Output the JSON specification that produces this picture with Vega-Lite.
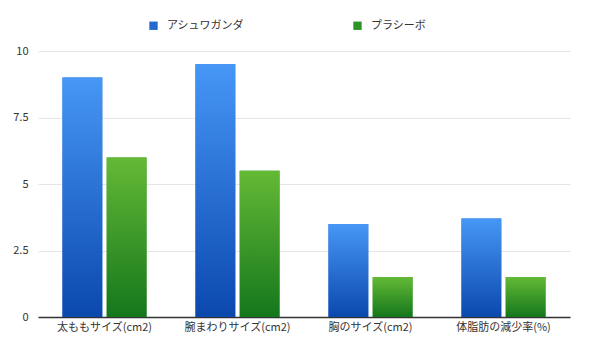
{
  "$schema": "https://vega.github.io/schema/vega-lite/v6.json",
  "width": 532,
  "height": 266,
  "autosize": {"type": "none"},
  "padding": {"left": 38, "top": 51, "right": 20, "bottom": 23},
  "background": "white",
  "config": {
    "font": "Noto Sans CJK JP",
    "view": {"stroke": null}
  },
  "data": {
    "values": [
      {"category": "太ももサイズ(cm2)", "series": "アシュワガンダ", "value": 9},
      {"category": "太ももサイズ(cm2)", "series": "プラシーボ", "value": 6},
      {"category": "腕まわりサイズ(cm2)", "series": "アシュワガンダ", "value": 9.5},
      {"category": "腕まわりサイズ(cm2)", "series": "プラシーボ", "value": 5.5},
      {"category": "胸のサイズ(cm2)", "series": "アシュワガンダ", "value": 3.5},
      {"category": "胸のサイズ(cm2)", "series": "プラシーボ", "value": 1.5},
      {"category": "体脂肪の減少率(%)", "series": "アシュワガンダ", "value": 3.7},
      {"category": "体脂肪の減少率(%)", "series": "プラシーボ", "value": 1.5}
    ]
  },
  "encoding": {
    "x": {
      "field": "category", "type": "nominal", "sort": null,
      "scale": {"paddingInner": 0.368, "paddingOuter": 0.184},
      "axis": {"title": null, "labelAngle": 0, "ticks": false, "domainColor": "#333333", "domainWidth": 1.5, "labelColor": "#333333", "labelFontSize": 11, "labelPadding": 4}
    },
    "xOffset": {
      "field": "series", "type": "nominal",
      "scale": {"domain": ["アシュワガンダ", "プラシーボ"], "paddingInner": 0.1}
    },
    "y": {
      "field": "value", "type": "quantitative",
      "scale": {"domain": [0, 10]},
      "axis": {"title": null, "values": [0, 2.5, 5, 7.5, 10], "format": ".1~f", "domain": false, "ticks": false, "gridColor": "#e6e6e6", "labelColor": "#333333", "labelFontSize": 11, "labelPadding": 10}
    }
  },
  "layer": [
    {
      "mark": {"type": "bar"},
      "encoding": {
        "color": {
          "field": "series", "type": "nominal",
          "scale": {"domain": ["アシュワガンダ", "プラシーボ"], "range": ["#2468d0", "#2e9428"]},
          "legend": {
            "title": null, "orient": "none", "direction": "horizontal",
            "legendX": 110, "legendY": -31,
            "symbolType": "square", "symbolSize": 70, "symbolStrokeWidth": 0,
            "labelFontSize": 11, "labelColor": "#333333", "columnPadding": 108, "labelOffset": 8
          }
        }
      }
    },
    {
      "transform": [{"filter": "datum.series === 'アシュワガンダ'"}],
      "mark": {
        "type": "bar",
        "color": {"gradient": "linear", "x1": 0, "y1": 0, "x2": 0, "y2": 1,
          "stops": [{"offset": 0, "color": "#4697f6"}, {"offset": 1, "color": "#0b48ad"}]}
      }
    },
    {
      "transform": [{"filter": "datum.series === 'プラシーボ'"}],
      "mark": {
        "type": "bar",
        "color": {"gradient": "linear", "x1": 0, "y1": 0, "x2": 0, "y2": 1,
          "stops": [{"offset": 0, "color": "#64b935"}, {"offset": 1, "color": "#14771c"}]}
      }
    }
  ]
}
